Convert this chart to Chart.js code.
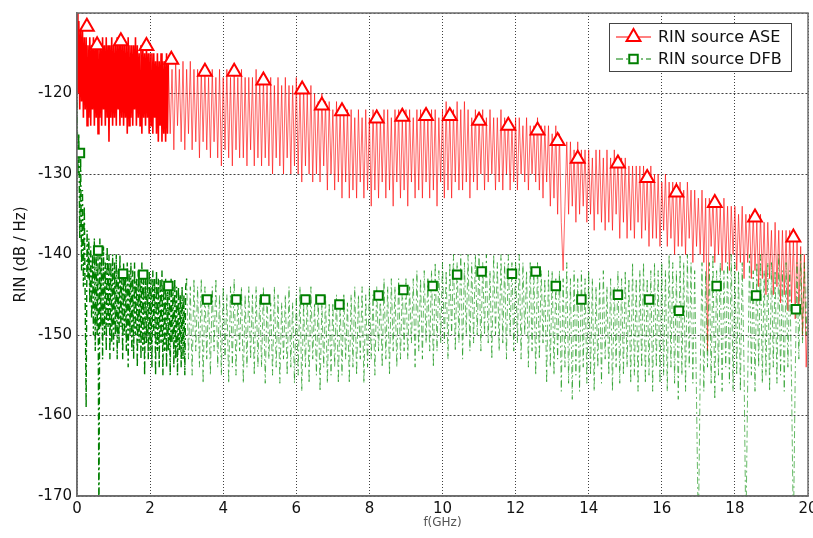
<!DOCTYPE html>
<html>
<head>
<meta charset="utf-8">
<script src="https://cdn.jsdelivr.net/npm/chart.js@4/dist/chart.umd.min.js"></script>
<style>
html,body{margin:0;padding:0;background:#fff;}
#wrap{width:813px;height:538px;}
</style>
</head>
<body>
<div id="wrap"><canvas id="c" width="813" height="538"></canvas></div>
<script>
// ---------- DATA ----------
const xTicks = [0, 2, 4, 6, 8, 10, 12, 14, 16, 18, 20];
const yTicks = [-170, -160, -150, -140, -130, -120];
const seriesNames = ['RIN source ASE', 'RIN source DFB'];

// ASE line, dense part: f = 0 .. 2.475 GHz, step 0.025
const aseDenseStart = 0, aseDenseStep = 0.025;
const aseDense = [
-110,-120,-111,-122,-112,-121,-112,-123,-113,-122,
-113,-124,-114,-123,-113,-124,-114,-122,-113,-124,
-114,-123,-113,-125,-114,-123,-114,-124,-113,-122,
-114,-124,-113,-123,-114,-126,-114,-123,-113,-124,
-114,-123,-114,-124,-113,-122,-114,-124,-114,-123,
-113,-124,-114,-123,-114,-125,-113,-124,-114,-123,
-114,-124,-114,-122,-113,-124,-114,-123,-115,-124,
-114,-125,-114,-123,-115,-124,-114,-123,-115,-125,
-115,-124,-115,-125,-115,-123,-116,-125,-115,-126,
-116,-124,-115,-126,-116,-125,-116,-126,-115,-125
];
// ASE line, sparse part: f = 2.5 .. 20 GHz, step 0.05
const aseSparseStart = 2.5, aseSparseStep = 0.05;
const aseSparse = [
-116,-125,-117,-127,-116,-124,-117,-126,-116,-127,-117,-125,-116,-127,-117,-126,-117,-128,-117,-126,
-117,-127,-118,-128,-117,-126,-118,-128,-117,-129,-118,-127,-117,-128,-118,-129,-117,-127,-118,-128,
-117,-128,-118,-129,-118,-127,-118,-129,-117,-128,-118,-129,-118,-128,-119,-129,-118,-130,-119,-128,
-118,-129,-119,-130,-118,-128,-119,-130,-119,-129,-118,-130,-119,-131,-119,-129,-120,-130,-119,-131,
-120,-130,-121,-131,-120,-129,-121,-132,-121,-130,-122,-132,-121,-131,-122,-133,-122,-131,-122,-133,
-122,-132,-123,-133,-122,-131,-123,-133,-122,-132,-123,-134,-122,-132,-122,-133,-123,-131,-122,-133,
-122,-132,-123,-134,-122,-131,-122,-133,-123,-132,-122,-134,-122,-131,-123,-133,-122,-132,-122,-133,
-122,-131,-123,-133,-122,-132,-122,-134,-123,-131,-122,-133,-121,-132,-122,-133,-122,-131,-121,-132,
-122,-132,-121,-131,-122,-133,-123,-131,-122,-132,-123,-130,-122,-132,-123,-131,-122,-130,-123,-132,
-123,-131,-122,-132,-123,-130,-123,-132,-124,-131,-123,-132,-123,-130,-124,-131,-123,-132,-124,-130,
-124,-131,-123,-132,-124,-133,-124,-131,-124,-134,-125,-133,-124,-135,-125,-136,-142,-134,-126,-135,
-126,-134,-127,-136,-126,-135,-127,-134,-127,-136,-127,-135,-128,-137,-127,-135,-127,-136,-128,-137,
-127,-136,-128,-137,-127,-135,-128,-138,-128,-136,-128,-138,-129,-137,-129,-138,-129,-136,-129,-138,
-129,-137,-130,-139,-129,-138,-130,-138,-130,-139,-131,-137,-130,-139,-131,-138,-131,-140,-131,-139,
-131,-139,-132,-140,-131,-138,-132,-141,-132,-139,-133,-140,-132,-141,-133,-152,-133,-139,-133,-141,
-133,-140,-134,-142,-133,-141,-134,-142,-134,-140,-134,-142,-135,-141,-134,-143,-135,-141,-135,-143,
-135,-142,-136,-144,-135,-143,-136,-145,-136,-143,-137,-145,-136,-144,-137,-146,-137,-145,-137,-147,
-137,-146,-138,-148,-138,-147,-139,-150,-140,-154,-147
];
// ASE markers
const aseMarkF = [0.27,0.55,1.2,1.9,2.58,3.5,4.3,5.1,6.16,6.7,7.25,8.2,8.9,9.55,10.2,11.0,11.8,12.6,13.15,13.7,14.8,15.6,16.4,17.45,18.55,19.6];
const aseMarkV = [-111.7,-114.0,-113.5,-114.1,-115.8,-117.3,-117.3,-118.4,-119.5,-121.5,-122.2,-123.1,-122.9,-122.8,-122.8,-123.4,-124.0,-124.6,-125.9,-128.1,-128.7,-130.5,-132.3,-133.6,-135.4,-137.9];

// DFB line, dense part: f = 0 .. 2.975 GHz, step 0.025
const dfbDenseStart = 0, dfbDenseStep = 0.025;
const dfbDense = [
-121,-130,-125,-138,-128,-142,-132,-144,-134,-146,
-159,-137,-143,-138,-146,-139,-148,-140,-150,-138,
-152,-139,-150,-140,-175,-138,-149,-140,-153,-139,
-150,-141,-152,-139,-149,-140,-153,-141,-151,-140,
-152,-141,-150,-140,-153,-142,-151,-140,-149,-142,
-153,-141,-150,-142,-152,-141,-154,-142,-150,-141,
-152,-142,-153,-141,-150,-143,-154,-142,-151,-142,
-153,-141,-152,-143,-155,-142,-151,-143,-153,-142,
-152,-143,-154,-142,-150,-143,-155,-142,-152,-143,
-154,-143,-151,-142,-155,-144,-152,-143,-154,-144,
-152,-144,-155,-143,-151,-144,-154,-143,-153,-144,
-155,-144,-152,-145,-154,-144,-153,-145,-155,-144
];
// DFB line, sparse part: f = 3 .. 20 GHz, step 0.05
const dfbSparseStart = 3, dfbSparseStep = 0.05;
const dfbSparse = [
-143,-153,-144,-155,-143,-152,-144,-154,-143,-156,-144,-153,-145,-155,-144,-152,-143,-154,-145,-155,
-144,-153,-145,-156,-144,-154,-143,-155,-145,-152,-144,-156,-145,-154,-144,-153,-145,-155,-144,-154,
-145,-154,-144,-156,-145,-153,-146,-155,-144,-154,-145,-156,-146,-153,-145,-155,-144,-154,-146,-156,
-145,-155,-144,-157,-146,-154,-145,-156,-144,-153,-146,-155,-145,-157,-146,-154,-145,-156,-146,-155,
-146,-154,-145,-156,-146,-155,-145,-153,-146,-156,-145,-154,-144,-155,-145,-153,-144,-156,-145,-154,
-144,-153,-145,-155,-144,-152,-145,-154,-143,-153,-144,-155,-143,-152,-144,-154,-143,-153,-144,-152,
-143,-153,-144,-151,-143,-154,-142,-152,-143,-153,-142,-151,-143,-152,-142,-154,-141,-152,-142,-151,
-141,-151,-142,-153,-141,-150,-140,-152,-141,-151,-140,-153,-141,-150,-140,-152,-141,-151,-140,-150,
-140,-152,-141,-150,-140,-151,-142,-153,-140,-150,-141,-152,-140,-151,-141,-153,-140,-150,-141,-152,
-141,-151,-140,-153,-141,-150,-142,-154,-141,-152,-142,-155,-141,-153,-142,-151,-143,-156,-142,-154,
-142,-155,-143,-153,-142,-157,-143,-154,-141,-156,-143,-158,-142,-155,-143,-157,-142,-154,-143,-156,
-142,-155,-143,-157,-144,-154,-143,-156,-142,-153,-144,-155,-143,-157,-144,-154,-142,-156,-143,-155,
-142,-154,-143,-156,-141,-155,-143,-157,-142,-154,-141,-156,-143,-155,-142,-157,-141,-154,-142,-156,
-141,-155,-142,-157,-140,-154,-141,-156,-142,-158,-140,-155,-141,-157,-140,-154,-141,-156,-142,-158,
-175,-155,-141,-157,-142,-154,-141,-156,-140,-158,-142,-155,-141,-157,-142,-154,-141,-156,-140,-157,
-141,-155,-142,-157,-141,-154,-175,-156,-140,-155,-142,-157,-141,-154,-140,-156,-142,-155,-141,-157,
-141,-154,-142,-156,-140,-155,-142,-157,-141,-154,-142,-156,-175,-155,-141,-153,-140,-151,-141,-150,
-141
];
// DFB markers
const dfbMarkF = [0.08,0.58,1.26,1.81,2.5,3.56,4.36,5.15,6.25,6.66,7.18,8.25,8.93,9.73,10.4,11.07,11.9,12.55,13.1,13.8,14.8,15.65,16.47,17.5,18.58,19.67];
const dfbMarkV = [-127.4,-139.5,-142.4,-142.5,-143.9,-145.6,-145.6,-145.6,-145.6,-145.6,-146.2,-145.1,-144.4,-143.9,-142.5,-142.1,-142.4,-142.1,-143.9,-145.6,-145.0,-145.6,-147.0,-143.9,-145.1,-146.8];

// ---------- BUILD ----------
function sampled(start, step, vals) {
  return vals.map((v, i) => ({x: +(start + i * step).toFixed(4), y: v}));
}
function paired(fs, vs) { return fs.map((f, i) => ({x: f, y: vs[i]})); }

const RED = '#ff0000', RED_LIGHT = 'rgba(255,0,0,0.6)';
const GREEN = '#007f00', GREEN_LIGHT = 'rgba(0,140,0,0.6)';
const DFB_DASH = [7, 3, 2, 3];
const FONT = 'DejaVu Sans';

const boxPlugin = {
  id: 'boxAndLegend',
  afterDatasetsDraw(chart) {
    const {ctx, chartArea: a} = chart;
    ctx.save();
    ctx.strokeStyle = '#6e6e6e';
    ctx.lineWidth = 1.5;
    ctx.strokeRect(a.left, a.top, a.right - a.left, a.bottom - a.top);
    // legend
    const lx = 609, ly = 23, lw = 182, lh = 48;
    ctx.fillStyle = '#fff';
    ctx.fillRect(lx, ly, lw, lh);
    ctx.strokeStyle = '#444';
    ctx.lineWidth = 1;
    ctx.strokeRect(lx + 0.5, ly + 0.5, lw, lh);
    const rows = [
      {y: 37, color: RED, dash: [], style: 'triangle', r: 8, label: seriesNames[0]},
      {y: 59, color: GREEN, dash: DFB_DASH, style: 'rect', r: 6, label: seriesNames[1]}
    ];
    rows.forEach(row => {
      ctx.save();
      ctx.strokeStyle = row.color;
      ctx.lineWidth = 1;
      ctx.setLineDash(row.dash);
      ctx.beginPath();
      ctx.moveTo(616, row.y);
      ctx.lineTo(651, row.y);
      ctx.stroke();
      ctx.restore();
      ctx.save();
      ctx.fillStyle = '#fff';
      ctx.strokeStyle = row.color;
      ctx.lineWidth = 2;
      Chart.helpers.drawPoint(ctx, {pointStyle: row.style, radius: row.r, rotation: 0, borderWidth: 2}, 633.5, row.y);
      ctx.restore();
      ctx.fillStyle = '#111';
      ctx.font = '16px "' + FONT + '"';
      ctx.textBaseline = 'middle';
      ctx.textAlign = 'left';
      ctx.fillText(row.label, 658, row.y + 1);
    });
    ctx.restore();
  }
};

new Chart(document.getElementById('c'), {
  type: 'line',
  data: {
    datasets: [
      {label: seriesNames[0] + ' markers', data: paired(aseMarkF, aseMarkV), showLine: false,
       pointStyle: 'triangle', pointRadius: 8, pointBorderWidth: 2, pointBorderColor: RED,
       pointBackgroundColor: '#fff', order: 0},
      {label: seriesNames[1] + ' markers', data: paired(dfbMarkF, dfbMarkV), showLine: false,
       pointStyle: 'rect', pointRadius: 6, pointBorderWidth: 2, pointBorderColor: GREEN,
       pointBackgroundColor: '#fff', order: 1},
      {label: seriesNames[0], data: sampled(aseDenseStart, aseDenseStep, aseDense).concat(sampled(aseSparseStart, aseSparseStep, aseSparse)),
       borderColor: RED, borderWidth: 1, pointRadius: 0, tension: 0, order: 3,
       segment: {
         borderColor: c => (c.p0.parsed.x < aseSparseStart ? RED : RED_LIGHT),
         borderWidth: c => (c.p0.parsed.x < aseSparseStart ? 1.6 : 1)
       }},
      {label: seriesNames[1], data: sampled(dfbDenseStart, dfbDenseStep, dfbDense).concat(sampled(dfbSparseStart, dfbSparseStep, dfbSparse)),
       borderColor: GREEN, borderWidth: 1, borderDash: DFB_DASH, pointRadius: 0, tension: 0, order: 2,
       segment: {
         borderColor: c => (c.p0.parsed.x < dfbSparseStart ? GREEN : GREEN_LIGHT),
         borderWidth: c => (c.p0.parsed.x < dfbSparseStart ? 1.4 : 1)
       }}
    ]
  },
  options: {
    responsive: false,
    animation: false,
    events: [],
    layout: {autoPadding: false, padding: {left: 0, top: 13, right: 5, bottom: 0}},
    plugins: {legend: {display: false}, tooltip: {enabled: false}},
    scales: {
      x: {
        type: 'linear', min: 0, max: 20,
        afterBuildTicks(s) { s.ticks = xTicks.map(v => ({value: v})); },
        afterFit(s) { s.height = 42; s.paddingRight = 0; s.paddingLeft = 0; },
        ticks: {font: {family: FONT, size: 15}, color: '#111', padding: 4, maxRotation: 0},
        grid: {color: 'rgba(0,0,0,0.75)', lineWidth: 1, drawTicks: false},
        border: {display: true, color: '#6e6e6e', width: 1.5, dash: [1, 2]},
        title: {display: true, text: 'f(GHz)', color: '#555', font: {family: FONT, size: 12}, padding: {top: 0, bottom: 8}}
      },
      y: {
        type: 'linear', min: -170, max: -110,
        afterBuildTicks(s) { s.ticks = yTicks.concat([-110]).map(v => ({value: v})); },
        afterFit(s) { s.width = 77; s.paddingTop = 0; s.paddingBottom = 0; },
        ticks: {font: {family: FONT, size: 15}, color: '#111', padding: 5,
                callback: v => (v === -110 ? '' : String(v))},
        grid: {color: 'rgba(0,0,0,0.75)', lineWidth: 1, drawTicks: false},
        border: {display: true, color: '#6e6e6e', width: 1.5, dash: [2, 2]},
        title: {display: true, text: 'RIN (dB / Hz)', color: '#111', font: {family: FONT, size: 15}, padding: {top: 12, bottom: 0}}
      }
    }
  },
  plugins: [boxPlugin]
});
</script>
</body>
</html>
